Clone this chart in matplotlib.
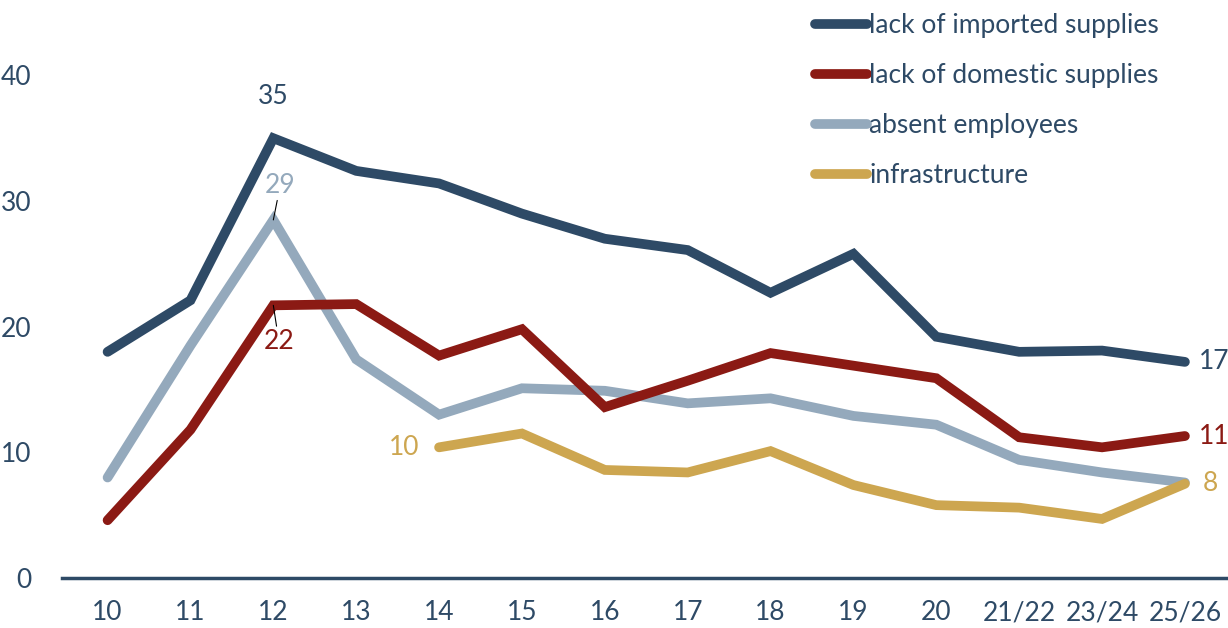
import matplotlib.pyplot as plt

plt.rcParams["font.family"] = ["Lato", "DejaVu Sans"]

periods = ["10", "11", "12", "13", "14", "15", "16", "17", "18", "19", "20",
           "21/22", "23/24", "25/26"]

imported = [18.0, 22.1, 35.0, 32.4, 31.4, 29.0, 27.0, 26.1, 22.7, 25.8, 19.2,
            18.0, 18.1, 17.2]
domestic = [4.6, 11.8, 21.7, 21.8, 17.7, 19.8, 13.6, 15.7, 17.9, 16.9, 15.9,
            11.2, 10.4, 11.3]
absent = [8.0, 18.5, 28.5, 17.4, 13.0, 15.1, 14.9, 13.9, 14.3, 12.9, 12.2,
          9.4, 8.4, 7.6]
infra = [None, None, None, None, 10.4, 11.5, 8.6, 8.4, 10.1, 7.4, 5.8,
         5.6, 4.7, 7.5]

NAVY = "#2E4A66"
RED = "#8B1A14"
GREY = "#94A9BC"
GOLD = "#CDA650"


def main():
    fig = plt.figure(figsize=(12.28, 6.28), dpi=100)
    ax = fig.add_axes([0.0505, 0.0796, 0.9495, 0.9204])

    x = list(range(len(periods)))
    lw = 7
    style = dict(lw=lw, solid_capstyle="round", solid_joinstyle="miter")
    ax.plot(x, imported, color=NAVY, label="lack of imported supplies",
            zorder=4, **style)
    ax.plot(x, domestic, color=RED, label="lack of domestic supplies",
            zorder=3, **style)
    ax.plot(x, absent, color=GREY, label="absent employees", zorder=2, **style)
    xi = [i for i, v in enumerate(infra) if v is not None]
    yi = [v for v in infra if v is not None]
    ax.plot(xi, yi, color=GOLD, label="infrastructure", zorder=3, **style)

    fs = 19
    # data labels
    ax.annotate("35", (2, imported[2]), xytext=(0, 21), textcoords="offset points",
                ha="center", va="bottom", color=NAVY, fontsize=fs)
    ax.annotate("29", (2, absent[2]), xytext=(5, 16), textcoords="offset points",
                ha="center", va="bottom", color=GREY, fontsize=fs,
                arrowprops=dict(arrowstyle="-", color="black", lw=0.8,
                                shrinkA=0, shrinkB=0))
    ax.annotate("22", (2, domestic[2]), xytext=(4, -17), textcoords="offset points",
                ha="center", va="top", color=RED, fontsize=fs,
                arrowprops=dict(arrowstyle="-", color="black", lw=0.8,
                                shrinkA=0, shrinkB=0))
    ax.annotate("10", (xi[0], yi[0]), xytext=(-14, 0), textcoords="offset points",
                ha="right", va="center", color=GOLD, fontsize=fs)
    last = len(periods) - 1
    ax.annotate("17", (last, imported[-1]), xytext=(10, 0), textcoords="offset points",
                ha="left", va="center", color=NAVY, fontsize=fs)
    ax.annotate("11", (last, domestic[-1]), xytext=(10, 0), textcoords="offset points",
                ha="left", va="center", color=RED, fontsize=fs)
    ax.annotate("8", (last, infra[-1]), xytext=(13, 0), textcoords="offset points",
                ha="left", va="center", color=GOLD, fontsize=fs)

    ax.set_xlim(-0.55, last + 0.52)
    ax.set_ylim(0, 46)
    ax.set_xticks(x)
    ax.set_xticklabels(periods)
    ax.set_yticks([0, 10, 20, 30, 40])
    ax.tick_params(axis="both", length=0, colors=NAVY, labelsize=fs)
    ax.tick_params(axis="x", pad=16)
    ax.tick_params(axis="y", pad=22)

    for side in ["top", "right", "left"]:
        ax.spines[side].set_visible(False)
    ax.spines["bottom"].set_color(NAVY)
    ax.spines["bottom"].set_linewidth(2.5)

    leg = fig.legend(loc="upper left", bbox_to_anchor=(0.644, 1.017),
                     frameon=False, fontsize=fs, handlelength=2.0,
                     handletextpad=0.08, labelspacing=0.95)
    for t in leg.get_texts():
        t.set_color(NAVY)
    for h in leg.get_lines():
        h.set_solid_capstyle("round")

    fig.savefig("out.png", dpi=100)


if __name__ == "__main__":
    main()
